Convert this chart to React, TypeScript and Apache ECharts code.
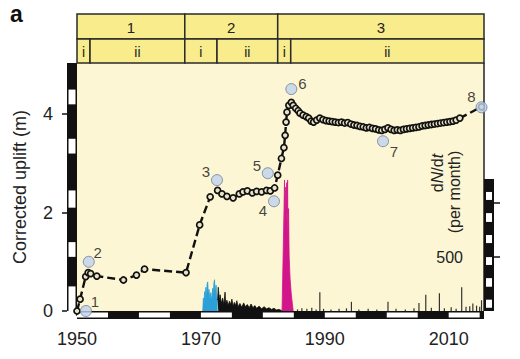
import React, { useEffect, useRef } from 'react';
import * as echarts from 'echarts';

const FONT = '"Liberation Sans", Arial, Helvetica, sans-serif';

// ---- Data ----
const upliftYears = [
  1950.0, 1950.5, 1951.4, 1951.8, 1952.2, 1953.2, 1957.5, 1959.6, 1960.9, 1967.6,
  1969.8, 1971.5, 1972.7, 1973.4, 1974.2, 1975.2, 1976.2, 1976.8, 1977.5, 1978.3,
  1979.0, 1979.8, 1980.6, 1981.2, 1981.9, 1982.4, 1983.0, 1983.4, 1983.6, 1983.75,
  1983.9, 1984.2, 1984.6, 1984.9, 1985.3, 1985.7, 1986.0, 1986.5, 1987.0, 1987.4,
  1987.8, 1988.2, 1988.7, 1989.2, 1989.7, 1990.2, 1990.7, 1991.2, 1991.7, 1992.2,
  1992.7, 1993.2, 1993.7, 1994.2, 1994.7, 1995.2, 1995.7, 1996.2, 1996.7, 1997.2,
  1997.7, 1998.2, 1998.7, 1999.2, 1999.7, 2000.2, 2000.7, 2001.2, 2001.7, 2002.2,
  2002.7, 2003.2, 2003.7, 2004.2, 2004.7, 2005.2, 2005.7, 2006.2, 2006.7, 2007.2,
  2007.7, 2008.2, 2008.7, 2009.2, 2009.7, 2010.2, 2010.7, 2011.2, 2011.8, 2015.3,
];
const upliftValues = [
  0.0, 0.24, 0.70, 0.78, 0.76, 0.71, 0.63, 0.73, 0.85, 0.78,
  1.75, 2.32, 2.45, 2.38, 2.33, 2.30, 2.38, 2.42, 2.44, 2.40,
  2.43, 2.42, 2.45, 2.44, 2.50, 2.76, 3.10, 3.32, 3.57, 3.84,
  4.04, 4.18, 4.24, 4.18, 4.12, 4.07, 4.02, 3.98, 3.95, 3.92,
  3.86, 3.84, 3.88, 3.92, 3.89, 3.87, 3.86, 3.85, 3.84, 3.83,
  3.84, 3.82, 3.83, 3.80, 3.78, 3.77, 3.75, 3.74, 3.72, 3.73,
  3.71, 3.70, 3.68, 3.67, 3.69, 3.72, 3.69, 3.67, 3.68, 3.67,
  3.69, 3.70, 3.71, 3.72, 3.73, 3.74, 3.76, 3.77, 3.78, 3.79,
  3.80, 3.81, 3.82, 3.83, 3.84, 3.85, 3.86, 3.88, 3.92, 4.15,
];

const markNames = ['1', '2', '3', '4', '5', '6', '7', '8'];
const markYears = [1951.45, 1951.9, 1972.6, 1981.8, 1980.8, 1984.6, 1999.4, 2015.3];
const markValues = [0.0, 1.0, 2.66, 2.23, 2.8, 4.51, 3.45, 4.14];

const blueYears = [1970.3, 1970.4, 1970.5, 1970.6, 1970.7, 1970.8, 1970.9, 1971.0, 1971.1, 1971.2, 1971.3, 1971.45, 1971.6, 1971.75, 1971.9, 1972.0, 1972.1, 1972.2, 1972.3, 1972.45, 1972.55, 1972.7];
const blueRates = [0, 120, 60, 180, 90, 220, 130, 250, 270, 150, 200, 110, 170, 90, 210, 140, 260, 290, 160, 240, 120, 100];

const blackYears = [1972.7, 1972.8, 1973.0, 1973.1, 1973.3, 1973.5, 1973.7, 1973.9, 1974.0, 1974.2, 1974.4, 1974.6, 1974.8, 1975.0, 1975.2, 1975.4, 1975.6, 1975.8, 1976.0, 1976.3, 1976.6, 1976.9, 1977.2, 1977.5, 1977.8, 1978.1, 1978.4, 1978.7, 1979.0, 1979.4, 1979.8, 1980.2, 1980.6, 1981.0, 1981.4, 1981.8, 1982.2, 1982.6, 1983.0, 1983.2];
const blackRates = [100, 220, 90, 150, 70, 120, 60, 175, 70, 100, 50, 90, 60, 110, 45, 80, 50, 95, 40, 70, 35, 75, 40, 60, 30, 65, 30, 50, 25, 45, 20, 40, 20, 30, 15, 25, 10, 15, 5, 0];

const magentaYears = [1983.1, 1983.2, 1983.3, 1983.4, 1983.5, 1983.55, 1983.6, 1983.7, 1983.75, 1983.85, 1983.9, 1984.0, 1984.05, 1984.15, 1984.25, 1984.4, 1984.6, 1984.9];
const magentaRates = [0, 300, 600, 900, 1215, 700, 1000, 1150, 800, 1190, 900, 1215, 700, 950, 500, 300, 150, 0];

const spikeYears = [1985.6, 1986.3, 1987.1, 1987.9, 1988.6, 1989.2, 1989.8, 1991.0, 1992.3, 1993.5, 1994.3, 1995.5, 1997.0, 1998.4, 2000.2, 2001.5, 2003.0, 2004.4, 2005.2, 2006.3, 2007.2, 2008.5, 2009.3, 2010.4, 2011.2, 2012.1, 2012.8, 2013.4, 2013.9, 2014.5, 2015.0, 2015.3];
const spikeRates = [15, 25, 20, 30, 15, 175, 20, 15, 20, 25, 85, 15, 20, 15, 85, 20, 15, 25, 75, 150, 30, 165, 25, 35, 20, 220, 40, 45, 70, 50, 40, 100];

const phaseNames = ['1', '2', '3'];
const phaseStarts = [1950, 1967.4, 1982.4];
const phaseEnds = [1967.4, 1982.4, 2015.7];
const subNames = ['i', 'ii', 'i', 'ii', 'i', 'ii'];
const subStarts = [1950, 1952.1, 1967.4, 1972.6, 1982.4, 1984.5];
const subEnds = [1952.1, 1967.4, 1972.6, 1982.4, 1984.5, 2015.7];

const xTicks = [1950, 1970, 1990, 2010];
const yTicks = [0, 2, 4];
const rateTicks = [500, 1000];
const rateLabels = [500];

const leftWhite = [[0, 0.5], [1.1, 1.4], [2.1, 2.45], [3.2, 3.5], [4.2, 4.5]];
const bottomWhite = [[1950, 1955], [1960, 1965], [1970, 1975], [1980, 1985], [1990, 1995], [2000, 2005], [2010, 2015]];
const rightWhite = [[30, 105], [225, 305], [427, 500], [630, 705], [826, 908], [1030, 1104]];
const rightBarTop = 1225;

const X_MIN = 1950;
const X_MAX = 2015.7;
const Y_MAX = 5.04;
const R_MAX = 2300;

export default function App() {
  const ref = useRef<HTMLDivElement>(null);
  useEffect(() => {
    if (!ref.current) return;
    const chart = echarts.init(ref.current, undefined, { renderer: 'svg' });

    const labelOffsets = [[9, -10], [9, -9], [-11, -9], [-11, 9], [-11, -8], [11, -6], [11, 10], [-10, -11]];

    const headerData: number[][] = [];
    phaseStarts.forEach((s, i) => headerData.push([s, phaseEnds[i], 0, i]));
    subStarts.forEach((s, i) => headerData.push([s, subEnds[i], 1, i]));

    const option: any = {
      animation: false,
      backgroundColor: '#ffffff',
      grid: {
        left: 77, right: 36, top: 63, bottom: 48,
        show: true, backgroundColor: '#fdf6d4', borderWidth: 0,
      },
      xAxis: {
        type: 'value', min: X_MIN, max: X_MAX, offset: 8,
        axisLine: { show: false },
        splitLine: { show: false },
        axisTick: { show: true, length: 5, customValues: xTicks, lineStyle: { color: '#111', width: 1.5 } },
        axisLabel: {
          customValues: xTicks, fontSize: 18, color: '#222', fontFamily: FONT, margin: 11,
          formatter: (v: number) => String(Math.round(v)),
        },
      },
      yAxis: [
        {
          type: 'value', min: 0, max: Y_MAX, offset: 10, position: 'left',
          axisLine: { show: false },
          splitLine: { show: false },
          axisTick: { show: true, length: 5, customValues: yTicks, lineStyle: { color: '#111', width: 1.5 } },
          axisLabel: { customValues: yTicks, fontSize: 18, color: '#222', fontFamily: FONT, margin: 14 },
          name: 'Corrected uplift (m)', nameLocation: 'middle', nameGap: 38,
          nameTextStyle: { fontSize: 18, color: '#222', fontFamily: FONT },
        },
        {
          type: 'value', min: 0, max: R_MAX, offset: 10, position: 'right',
          axisLine: { show: false },
          splitLine: { show: false },
          axisTick: { show: true, length: 6, customValues: rateTicks, lineStyle: { color: '#111', width: 1.5 } },
          axisLabel: { inside: true, customValues: rateLabels, fontSize: 16, color: '#222', fontFamily: FONT, margin: 31 },
        },
      ],
      graphic: [
        { type: 'text', left: 10, top: 2, style: { text: 'a', font: `bold 23px ${FONT}`, fill: '#111' } },
        {
          type: 'text', x: 437, y: 173, rotation: Math.PI / 2,
          style: {
            text: '{r|d}{i|N}{r|/d}{i|t}', align: 'center', verticalAlign: 'middle',
            rich: {
              r: { fontSize: 16, fontFamily: FONT, fill: '#222' },
              i: { fontSize: 16, fontFamily: FONT, fill: '#222', fontStyle: 'italic' },
            },
          },
        },
        {
          type: 'text', x: 454, y: 192, rotation: Math.PI / 2,
          style: { text: '(per month)', align: 'center', verticalAlign: 'middle', fontSize: 16, fontFamily: FONT, fill: '#222' },
        },
      ],
      series: [
        {
          type: 'line', yAxisIndex: 1, showSymbol: false, symbol: 'none', z: 2,
          data: blueYears.map((x, i) => [x, blueRates[i]]),
          lineStyle: { color: '#2a9fd8', width: 0.8 },
          areaStyle: { color: '#2a9fd8', opacity: 1 },
        },
        {
          type: 'line', yAxisIndex: 1, showSymbol: false, symbol: 'none', z: 2,
          data: blackYears.map((x, i) => [x, blackRates[i]]),
          lineStyle: { color: '#111', width: 0.8 },
          areaStyle: { color: '#111', opacity: 1 },
        },
        {
          type: 'line', yAxisIndex: 1, showSymbol: false, symbol: 'none', z: 2,
          data: magentaYears.map((x, i) => [x, magentaRates[i]]),
          lineStyle: { color: '#d2158a', width: 0.8 },
          areaStyle: { color: '#d2158a', opacity: 1 },
        },
        {
          type: 'bar', yAxisIndex: 1, barWidth: 1.2, z: 2,
          data: spikeYears.map((x, i) => [x, spikeRates[i]]),
          itemStyle: { color: '#333' },
        },
        {
          type: 'line', yAxisIndex: 0, z: 5,
          data: upliftYears.map((x, i) => [x, upliftValues[i]]),
          lineStyle: { color: '#111', width: 2.4, type: [8, 4] },
          symbol: 'circle', symbolSize: 6,
          itemStyle: { color: '#e9e4c6', borderColor: '#111', borderWidth: 1.7 },
        },
        {
          type: 'scatter', yAxisIndex: 0, z: 6,
          data: markYears.map((x, i) => ({
            value: [x, markValues[i]], name: markNames[i],
            label: { offset: labelOffsets[i] },
          })),
          symbolSize: 11,
          itemStyle: { color: '#bfd2ec', borderColor: '#6c7e98', borderWidth: 1 },
          label: {
            show: true, position: 'inside', formatter: (p: any) => p.name,
            fontSize: 15, color: '#111', fontFamily: FONT, textBorderWidth: 0,
          },
        },
        // left checkered bar
        {
          type: 'custom', yAxisIndex: 0, clip: false, z: 3, silent: true,
          data: [[0, Y_MAX, 0], ...leftWhite.map(([a, b]) => [a, b, 1])],
          renderItem: (params: any, api: any) => {
            const p0 = api.coord([X_MIN, api.value(0)]);
            const p1 = api.coord([X_MIN, api.value(1)]);
            const white = api.value(2) === 1;
            const inset = white ? 1.5 : 0;
            return {
              type: 'rect',
              shape: { x: p0[0] - 10 + inset, y: p1[1], width: 10 - 2 * inset, height: p0[1] - p1[1] },
              style: { fill: white ? '#ffffff' : '#111111' },
            };
          },
        },
        // bottom checkered bar
        {
          type: 'custom', yAxisIndex: 0, clip: false, z: 3, silent: true,
          data: [[X_MIN, X_MAX, 0], ...bottomWhite.map(([a, b]) => [a, b, 1])],
          renderItem: (params: any, api: any) => {
            const p0 = api.coord([api.value(0), 0]);
            const p1 = api.coord([api.value(1), 0]);
            const white = api.value(2) === 1;
            const inset = white ? 1.5 : 0;
            return {
              type: 'rect',
              shape: { x: p0[0], y: p0[1] + inset, width: p1[0] - p0[0], height: 8 - 2 * inset },
              style: { fill: white ? '#ffffff' : '#111111' },
            };
          },
        },
        // right checkered bar + right border
        {
          type: 'custom', yAxisIndex: 1, clip: false, z: 3, silent: true,
          data: [[0, rightBarTop, 0], ...rightWhite.map(([a, b]) => [a, b, 1])],
          renderItem: (params: any, api: any) => {
            const p0 = api.coord([X_MAX, api.value(0)]);
            const p1 = api.coord([X_MAX, api.value(1)]);
            const white = api.value(2) === 1;
            const inset = white ? 2 : 0;
            const rect = {
              type: 'rect',
              shape: { x: p0[0] + inset, y: p1[1], width: 10 - 2 * inset, height: p0[1] - p1[1] },
              style: { fill: white ? '#ffffff' : '#111111' },
            };
            if (white) return rect;
            const top = api.coord([X_MAX, R_MAX]);
            return {
              type: 'group',
              children: [
                { type: 'line', shape: { x1: p0[0], y1: top[1], x2: p0[0], y2: p0[1] }, style: { stroke: '#222', lineWidth: 1.5 } },
                rect,
              ],
            };
          },
        },
        // header phases
        {
          type: 'custom', yAxisIndex: 0, clip: false, z: 3, silent: true,
          data: headerData,
          renderItem: (params: any, api: any) => {
            const row = api.value(2);
            const idx = api.value(3);
            const a = api.coord([api.value(0), Y_MAX]);
            const b = api.coord([api.value(1), Y_MAX]);
            const y0 = a[1] - (row === 0 ? 49 : 24);
            const h = row === 0 ? 25 : 24;
            const text = row === 0 ? phaseNames[idx] : subNames[idx];
            return {
              type: 'group',
              children: [
                {
                  type: 'rect',
                  shape: { x: a[0], y: y0, width: b[0] - a[0], height: h },
                  style: { fill: '#f8ec8c', stroke: '#2a2a2a', lineWidth: 1.5 },
                },
                {
                  type: 'text',
                  style: {
                    text, x: (a[0] + b[0]) / 2, y: y0 + h / 2 + 1,
                    align: 'center', verticalAlign: 'middle',
                    fontSize: row === 0 ? 15 : 14, fontFamily: FONT, fill: '#222',
                  },
                },
              ],
            };
          },
        },
      ],
    };
    chart.setOption(option);
    return () => chart.dispose();
  }, []);

  return <div ref={ref} style={{ position: 'fixed', left: 0, top: 0, width: 520, height: 359 }} />;
}
